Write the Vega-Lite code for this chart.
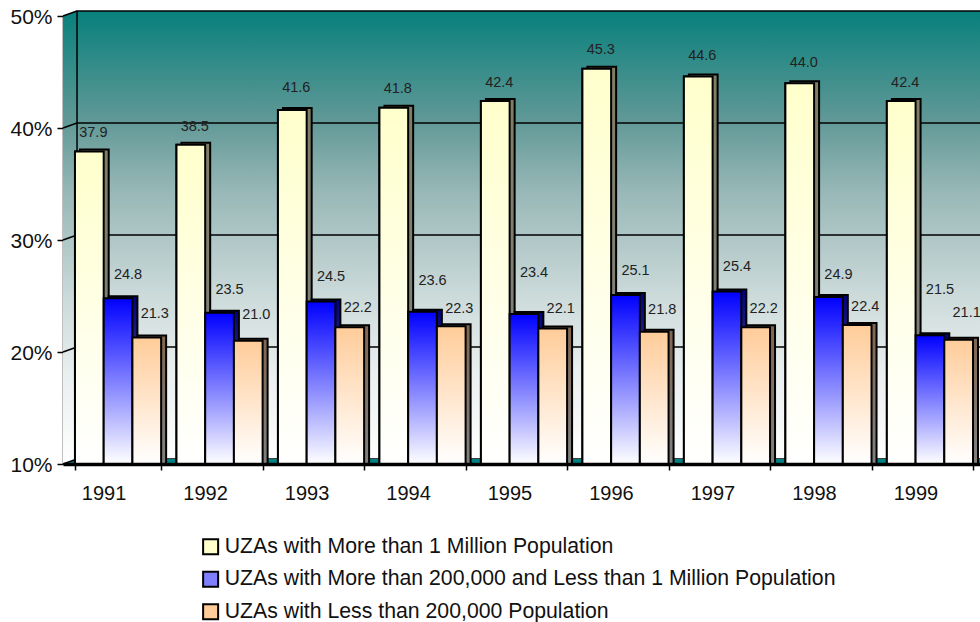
{"$schema":"https://vega.github.io/schema/vega-lite/v6.json","width":917,"height":448,"autosize":{"type":"none"},"padding":{"left":63,"top":16,"right":0,"bottom":158},"background":"white","config":{"font":"Liberation Sans","view":{"stroke":null}},
"datasets":{"rates":[
{"year":"1991","series":"UZAs with More than 1 Million Population","rate":37.9,"labelAt":39.55},
{"year":"1992","series":"UZAs with More than 1 Million Population","rate":38.5,"labelAt":40.09},
{"year":"1993","series":"UZAs with More than 1 Million Population","rate":41.6,"labelAt":43.57},
{"year":"1994","series":"UZAs with More than 1 Million Population","rate":41.8,"labelAt":43.48},
{"year":"1995","series":"UZAs with More than 1 Million Population","rate":42.4,"labelAt":44.02},
{"year":"1996","series":"UZAs with More than 1 Million Population","rate":45.3,"labelAt":46.96},
{"year":"1997","series":"UZAs with More than 1 Million Population","rate":44.6,"labelAt":46.43},
{"year":"1998","series":"UZAs with More than 1 Million Population","rate":44.0,"labelAt":45.8},
{"year":"1999","series":"UZAs with More than 1 Million Population","rate":42.4,"labelAt":44.02},
{"year":"1991","series":"UZAs with More than 200,000 and Less than 1 Million Population","rate":24.8,"labelAt":26.88},
{"year":"1992","series":"UZAs with More than 200,000 and Less than 1 Million Population","rate":23.5,"labelAt":25.54},
{"year":"1993","series":"UZAs with More than 200,000 and Less than 1 Million Population","rate":24.5,"labelAt":26.7},
{"year":"1994","series":"UZAs with More than 200,000 and Less than 1 Million Population","rate":23.6,"labelAt":26.34},
{"year":"1995","series":"UZAs with More than 200,000 and Less than 1 Million Population","rate":23.4,"labelAt":27.05},
{"year":"1996","series":"UZAs with More than 200,000 and Less than 1 Million Population","rate":25.1,"labelAt":27.23},
{"year":"1997","series":"UZAs with More than 200,000 and Less than 1 Million Population","rate":25.4,"labelAt":27.59},
{"year":"1998","series":"UZAs with More than 200,000 and Less than 1 Million Population","rate":24.9,"labelAt":26.88},
{"year":"1999","series":"UZAs with More than 200,000 and Less than 1 Million Population","rate":21.5,"labelAt":25.54},
{"year":"1991","series":"UZAs with Less than 200,000 Population","rate":21.3,"labelAt":23.39},
{"year":"1992","series":"UZAs with Less than 200,000 Population","rate":21.0,"labelAt":23.3},
{"year":"1993","series":"UZAs with Less than 200,000 Population","rate":22.2,"labelAt":23.93},
{"year":"1994","series":"UZAs with Less than 200,000 Population","rate":22.3,"labelAt":23.84},
{"year":"1995","series":"UZAs with Less than 200,000 Population","rate":22.1,"labelAt":23.84},
{"year":"1996","series":"UZAs with Less than 200,000 Population","rate":21.8,"labelAt":23.75},
{"year":"1997","series":"UZAs with Less than 200,000 Population","rate":22.2,"labelAt":23.84},
{"year":"1998","series":"UZAs with Less than 200,000 Population","rate":22.4,"labelAt":24.02},
{"year":"1999","series":"UZAs with Less than 200,000 Population","rate":21.1,"labelAt":23.48}
]},
"resolve":{"scale":{"x":"independent","xOffset":"independent"},"axis":{"x":"independent"}},
"layer":[
{"encoding":{"x":{"field":"x","type":"quantitative","scale":{"domain":[0,1],"range":[0,917]},"axis":null},"y":{"field":"y","type":"quantitative","scale":{"domain":[10,50]},"axis":{"values":[10,20,30,40,50],"title":null,"grid":false,"labelExpr":"datum.value+'%'","labelFontSize":21,"labelColor":"#111","labelPadding":5,"labelOffset":1,"tickSize":6,"tickColor":"black","tickWidth":1.5,"domainColor":"black","domainWidth":1.5}}},
"layer":[
{"data":{"values":[{"x":0,"y":50,"y2":10},{"x":0.0153,"y":50.446,"y2":10.446}]},"mark":{"type":"area","fill":{"gradient":"linear","x1":0,"y1":0,"x2":0,"y2":1,"stops":[{"offset":0,"color":"#08807c"},{"offset":0.24,"color":"#5f9896"},{"offset":0.4,"color":"#97b7b6"},{"offset":0.65,"color":"#cfdcdc"},{"offset":0.8,"color":"#e9eeee"},{"offset":1,"color":"#ffffff"}]}},"encoding":{"y2":{"field":"y2"}}},
{"data":{"values":[{"x":0.0153,"x2":1.02,"y":50.446,"y2":10.446}]},"mark":{"type":"rect","stroke":"black","strokeWidth":1.5,"fill":{"gradient":"linear","x1":0,"y1":0,"x2":0,"y2":1,"stops":[{"offset":0,"color":"#08807c"},{"offset":0.24,"color":"#5f9896"},{"offset":0.4,"color":"#97b7b6"},{"offset":0.65,"color":"#cfdcdc"},{"offset":0.8,"color":"#e9eeee"},{"offset":1,"color":"#ffffff"}]}},"encoding":{"x2":{"field":"x2"},"y2":{"field":"y2"}}},
{"data":{"values":[{"x":0,"y":10,"y2":10},{"x":0.0153,"y":10.446,"y2":10},{"x":1.02,"y":10.446,"y2":10}]},"mark":{"type":"area","fill":"#008080"},"encoding":{"y2":{"field":"y2"}}},
{"data":{"values":[{"x":0.0153,"x2":1.02,"y":20.446},{"x":0.0153,"x2":1.02,"y":30.446},{"x":0.0153,"x2":1.02,"y":40.446}]},"mark":{"type":"rule","color":"black","strokeWidth":1.5},"encoding":{"x2":{"field":"x2"}}},
{"data":{"values":[{"x":0,"y":50,"level":50},{"x":0.0153,"y":50.446,"level":50},{"x":0,"y":40,"level":40},{"x":0.0153,"y":40.446,"level":40},{"x":0,"y":30,"level":30},{"x":0.0153,"y":30.446,"level":30},{"x":0,"y":20,"level":20},{"x":0.0153,"y":20.446,"level":20},{"x":0,"y":10,"level":10},{"x":0.0153,"y":10.446,"level":10}]},"mark":{"type":"line","color":"black","strokeWidth":1.5},"encoding":{"detail":{"field":"level"}}}
]},
{"data":{"name":"rates"},"mark":{"type":"bar","stroke":"black","strokeWidth":2},"encoding":{"x":{"field":"year","type":"ordinal","scale":{"type":"band","range":[0,922],"paddingInner":0.151,"paddingOuter":0.118},"axis":null},"xOffset":{"field":"series","type":"nominal","sort":null,"scale":{"domain":["UZAs with More than 1 Million Population","UZAs with More than 200,000 and Less than 1 Million Population","UZAs with Less than 200,000 Population"]}},"y":{"field":"rate","type":"quantitative","stack":null},"y2":{"datum":10},"fill":{"field":"series","type":"nominal","sort":null,"scale":{"domain":["UZAs with More than 1 Million Population","UZAs with More than 200,000 and Less than 1 Million Population","UZAs with Less than 200,000 Population"],"range":["#ffffcc","#8080ff","#ffcc99"]},"legend":{"orient":"none","legendX":137,"legendY":520,"title":null,"symbolType":"square","symbolSize":225,"symbolStrokeWidth":2,"symbolStrokeColor":"black","labelFontSize":21.25,"labelColor":"#111","labelLimit":700,"rowPadding":8.5,"labelOffset":3.5}}}},
{"data":{"name":"rates"},"transform":[{"filter":"datum.series==='UZAs with More than 1 Million Population'"}],"mark":{"type":"bar","yOffset":-2,"stroke":"black","strokeWidth":2,"fill":{"gradient":"linear","x1":0,"y1":0,"x2":0,"y2":1,"stops":[{"offset":0,"color":"#7f7f66"},{"offset":1,"color":"#808080"}]}},"encoding":{"x":{"field":"year","type":"ordinal","scale":{"type":"band","range":[5,927],"paddingInner":0.151,"paddingOuter":0.118},"axis":null},"xOffset":{"field":"series","type":"nominal","sort":null,"scale":{"domain":["UZAs with More than 1 Million Population","UZAs with More than 200,000 and Less than 1 Million Population","UZAs with Less than 200,000 Population"]}},"y":{"field":"rate","type":"quantitative","stack":null},"y2":{"datum":10}}},
{"data":{"name":"rates"},"transform":[{"filter":"datum.series==='UZAs with More than 1 Million Population'"}],"mark":{"type":"bar","stroke":"black","strokeWidth":2,"fill":{"gradient":"linear","x1":0,"y1":0,"x2":0,"y2":1,"stops":[{"offset":0,"color":"#ffffcc"},{"offset":1,"color":"#ffffff"}]}},"encoding":{"x":{"field":"year","type":"ordinal","scale":{"type":"band","range":[0,922],"paddingInner":0.151,"paddingOuter":0.118},"axis":null},"xOffset":{"field":"series","type":"nominal","sort":null,"scale":{"domain":["UZAs with More than 1 Million Population","UZAs with More than 200,000 and Less than 1 Million Population","UZAs with Less than 200,000 Population"]}},"y":{"field":"rate","type":"quantitative","stack":null},"y2":{"datum":10}}},
{"data":{"name":"rates"},"transform":[{"filter":"datum.series==='UZAs with More than 200,000 and Less than 1 Million Population'"}],"mark":{"type":"bar","yOffset":-2,"stroke":"black","strokeWidth":2,"fill":{"gradient":"linear","x1":0,"y1":0,"x2":0,"y2":1,"stops":[{"offset":0,"color":"#000080"},{"offset":1,"color":"#808080"}]}},"encoding":{"x":{"field":"year","type":"ordinal","scale":{"type":"band","range":[5,927],"paddingInner":0.151,"paddingOuter":0.118},"axis":null},"xOffset":{"field":"series","type":"nominal","sort":null,"scale":{"domain":["UZAs with More than 1 Million Population","UZAs with More than 200,000 and Less than 1 Million Population","UZAs with Less than 200,000 Population"]}},"y":{"field":"rate","type":"quantitative","stack":null},"y2":{"datum":10}}},
{"data":{"name":"rates"},"transform":[{"filter":"datum.series==='UZAs with More than 200,000 and Less than 1 Million Population'"}],"mark":{"type":"bar","stroke":"black","strokeWidth":2,"fill":{"gradient":"linear","x1":0,"y1":0,"x2":0,"y2":1,"stops":[{"offset":0,"color":"#0000ff"},{"offset":1,"color":"#ffffff"}]}},"encoding":{"x":{"field":"year","type":"ordinal","scale":{"type":"band","range":[0,922],"paddingInner":0.151,"paddingOuter":0.118},"axis":null},"xOffset":{"field":"series","type":"nominal","sort":null,"scale":{"domain":["UZAs with More than 1 Million Population","UZAs with More than 200,000 and Less than 1 Million Population","UZAs with Less than 200,000 Population"]}},"y":{"field":"rate","type":"quantitative","stack":null},"y2":{"datum":10}}},
{"data":{"name":"rates"},"transform":[{"filter":"datum.series==='UZAs with Less than 200,000 Population'"}],"mark":{"type":"bar","yOffset":-2,"stroke":"black","strokeWidth":2,"fill":{"gradient":"linear","x1":0,"y1":0,"x2":0,"y2":1,"stops":[{"offset":0,"color":"#806650"},{"offset":1,"color":"#808080"}]}},"encoding":{"x":{"field":"year","type":"ordinal","scale":{"type":"band","range":[5,927],"paddingInner":0.151,"paddingOuter":0.118},"axis":null},"xOffset":{"field":"series","type":"nominal","sort":null,"scale":{"domain":["UZAs with More than 1 Million Population","UZAs with More than 200,000 and Less than 1 Million Population","UZAs with Less than 200,000 Population"]}},"y":{"field":"rate","type":"quantitative","stack":null},"y2":{"datum":10}}},
{"data":{"name":"rates"},"transform":[{"filter":"datum.series==='UZAs with Less than 200,000 Population'"}],"mark":{"type":"bar","stroke":"black","strokeWidth":2,"fill":{"gradient":"linear","x1":0,"y1":0,"x2":0,"y2":1,"stops":[{"offset":0,"color":"#ffcc99"},{"offset":1,"color":"#ffffff"}]}},"encoding":{"x":{"field":"year","type":"ordinal","scale":{"type":"band","range":[0,922],"paddingInner":0.151,"paddingOuter":0.118},"axis":{"title":null,"labelAngle":0,"labelFontSize":20,"labelColor":"#111","labelOffset":-14.5,"labelPadding":13,"tickBand":"extent","tickOffset":-4,"tickSize":6,"tickColor":"black","tickWidth":1.5,"domainColor":"black","domainWidth":3.5,"zindex":1}},"xOffset":{"field":"series","type":"nominal","sort":null,"scale":{"domain":["UZAs with More than 1 Million Population","UZAs with More than 200,000 and Less than 1 Million Population","UZAs with Less than 200,000 Population"]}},"y":{"field":"rate","type":"quantitative","stack":null},"y2":{"datum":10}}},
{"data":{"name":"rates"},"transform":[{"filter":"datum.series==='UZAs with More than 1 Million Population'"}],"mark":{"type":"text","fontSize":14.5,"color":"#222","dx":4,"baseline":"middle"},"encoding":{"x":{"field":"year","type":"ordinal","scale":{"type":"band","range":[0,922],"paddingInner":0.151,"paddingOuter":0.118},"axis":null},"xOffset":{"field":"series","type":"nominal","sort":null,"scale":{"domain":["UZAs with More than 1 Million Population","UZAs with More than 200,000 and Less than 1 Million Population","UZAs with Less than 200,000 Population"]}},"y":{"field":"labelAt","type":"quantitative"},"text":{"field":"rate","type":"quantitative","format":".1f"}}},
{"data":{"name":"rates"},"transform":[{"filter":"datum.series==='UZAs with More than 200,000 and Less than 1 Million Population'"}],"mark":{"type":"text","fontSize":14.5,"color":"#222","dx":10,"baseline":"middle"},"encoding":{"x":{"field":"year","type":"ordinal","scale":{"type":"band","range":[0,922],"paddingInner":0.151,"paddingOuter":0.118},"axis":null},"xOffset":{"field":"series","type":"nominal","sort":null,"scale":{"domain":["UZAs with More than 1 Million Population","UZAs with More than 200,000 and Less than 1 Million Population","UZAs with Less than 200,000 Population"]}},"y":{"field":"labelAt","type":"quantitative"},"text":{"field":"rate","type":"quantitative","format":".1f"}}},
{"data":{"name":"rates"},"transform":[{"filter":"datum.series==='UZAs with Less than 200,000 Population'"}],"mark":{"type":"text","fontSize":14.5,"color":"#222","dx":8,"baseline":"middle"},"encoding":{"x":{"field":"year","type":"ordinal","scale":{"type":"band","range":[0,922],"paddingInner":0.151,"paddingOuter":0.118},"axis":null},"xOffset":{"field":"series","type":"nominal","sort":null,"scale":{"domain":["UZAs with More than 1 Million Population","UZAs with More than 200,000 and Less than 1 Million Population","UZAs with Less than 200,000 Population"]}},"y":{"field":"labelAt","type":"quantitative"},"text":{"field":"rate","type":"quantitative","format":".1f"}}}
]}
